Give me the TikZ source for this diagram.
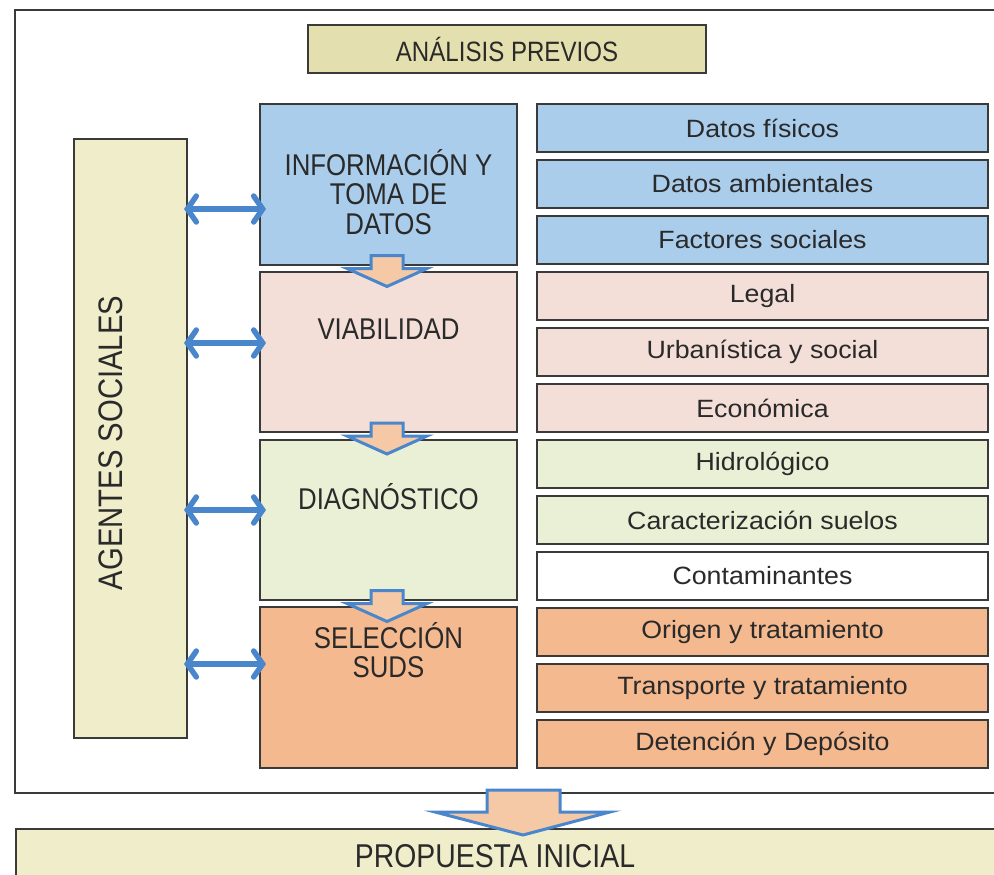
\documentclass[tikz,border=0pt]{standalone}
\usepackage{fontspec}
\setmainfont{Liberation Sans}
\newfontfamily\capsfont[FakeStretch=0.86]{Liberation Sans}
\newfontfamily\itemfont[FakeStretch=1.07]{Liberation Sans}
\usetikzlibrary{arrows.meta}
\definecolor{edge}{HTML}{3A3A3A}
\definecolor{txt}{HTML}{2A2A2A}
\definecolor{tanA}{HTML}{E4DFAE}
\definecolor{tanB}{HTML}{F0EDCB}
\definecolor{blueF}{HTML}{AACDEB}
\definecolor{pinkF}{HTML}{F3DFD8}
\definecolor{greenF}{HTML}{E9F0D6}
\definecolor{orangeF}{HTML}{F5B98F}
\definecolor{arrowB}{HTML}{4A86CC}
\definecolor{peach}{HTML}{F6C9A6}
\begin{document}
\begin{tikzpicture}[x=1pt,y=-1pt,
  box/.style={draw=edge, line width=1.5pt, inner sep=0pt},
  stagebox/.style={box, minimum width=257pt},
  itembox/.style={box, minimum width=451pt, minimum height=48pt, text=txt,
    font=\itemfont\fontsize{25}{28}\selectfont},
  stagelabel/.style={text=txt, align=center, font=\capsfont\fontsize{30}{29.5}\selectfont},
  duo/.style={draw=arrowB, line width=5.5pt,
    {Straight Barb[length=9pt,width=26pt,line cap=round]}-{Straight Barb[length=9pt,width=26pt,line cap=round]}},
  blockarrow/.style={draw=arrowB, line width=3pt, fill=peach, line join=miter}
]
\useasboundingbox (0,0) rectangle (994,875);
\fill[white] (0,0) rectangle (994,875);

% outer frame
\draw[edge, line width=1.8pt] (1000,10) -- (15,10) -- (15,793) -- (1000,793);

% title
\node[box, fill=tanA, minimum width=398pt, minimum height=48pt, text=txt,
  font=\capsfont\fontsize{28}{30}\selectfont] (title) at (507,49) {ANÁLISIS PREVIOS};

% agentes sociales
\node[box, fill=tanB, minimum width=113pt, minimum height=599pt] (agentes) at (130.5,438.5) {};
\node[text=txt, rotate=90, font=\capsfont\fontsize{34}{36}\selectfont] (agentesT) at (111,443) {AGENTES SOCIALES};

% stage boxes
\node[stagebox, fill=blueF, minimum height=161pt] (info) at (388.5,184.5) {};
\node[stagebox, fill=pinkF, minimum height=160pt] (viab) at (388.5,352) {};
\node[stagebox, fill=greenF, minimum height=160pt] (diag) at (388.5,520) {};
\node[stagebox, fill=orangeF, minimum height=161pt] (sel) at (388.5,687.5) {};

\node[stagelabel] (infoT) at (388.5,192) {INFORMACIÓN Y\\TOMA DE\\DATOS};
\node[stagelabel] (viabT) at (388.5,329) {VIABILIDAD};
\node[stagelabel] (diagT) at (388.5,497) {DIAGNÓSTICO};
\node[stagelabel] (selT) at (388.5,650) {SELECCIÓN\\SUDS};

% item boxes
\node[itembox, fill=blueF] (i1) at (762.5,128) {Datos físicos};
\node[itembox, fill=blueF] (i2) at (762.5,184) {Datos ambientales};
\node[itembox, fill=blueF] (i3) at (762.5,240) {Factores sociales};
\node[itembox, fill=pinkF] (i4) at (762.5,296) {Legal};
\node[itembox, fill=pinkF] (i5) at (762.5,352) {Urbanística y social};
\node[itembox, fill=pinkF] (i6) at (762.5,408) {Económica};
\node[itembox, fill=greenF] (i7) at (762.5,464) {Hidrológico};
\node[itembox, fill=greenF] (i8) at (762.5,520) {Caracterización suelos};
\node[itembox, fill=white] (i9) at (762.5,576) {Contaminantes};
\node[itembox, fill=orangeF] (i10) at (762.5,632) {Origen y tratamiento};
\node[itembox, fill=orangeF] (i11) at (762.5,688) {Transporte y tratamiento};
\node[itembox, fill=orangeF] (i12) at (762.5,744) {Detención y Depósito};

% propuesta
\node[box, fill=tanB, minimum width=990pt, minimum height=60pt, anchor=north west] (prop) at (15,828) {};
\node[text=txt, inner sep=1pt, font=\capsfont\fontsize{33}{35}\selectfont] (propT) at (495,856) {PROPUESTA INICIAL};

% double arrows
\coordinate (a1) at (184,209); \coordinate (b1) at (266,209);
\coordinate (a2) at (184,343); \coordinate (b2) at (266,343);
\coordinate (a3) at (184,510); \coordinate (b3) at (266,510);
\coordinate (a4) at (184,664); \coordinate (b4) at (266,664);
\draw[duo] (a1) -- (b1);
\draw[duo] (a2) -- (b2);
\draw[duo] (a3) -- (b3);
\draw[duo] (a4) -- (b4);

% small block arrows between stages
\foreach \yy/\nm in {268.5/s1, 436/s2, 603.5/s3}{
  \draw[blockarrow] (371,\yy-13) -- (403,\yy-13) -- (403,\yy) -- (427,\yy)
    -- (387,\yy+18) -- (347,\yy) -- (371,\yy) -- cycle;
}

% big block arrow
\draw[blockarrow] (487,790) -- (560,790) -- (560,812) -- (610,812)
  -- (523,835) -- (435,812) -- (487,812) -- cycle;
\end{tikzpicture}
\end{document}
